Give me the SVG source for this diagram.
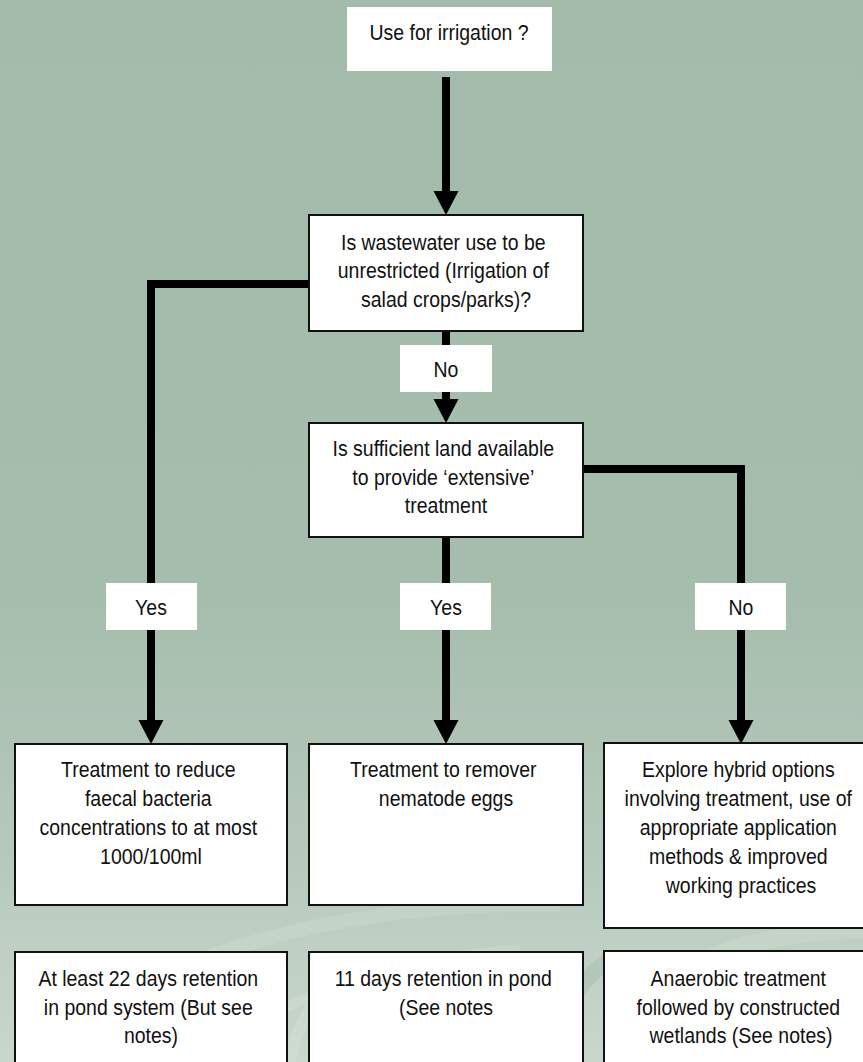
<svg xmlns="http://www.w3.org/2000/svg" width="863" height="1062" viewBox="0 0 863 1062">
  <defs>
    <linearGradient id="bg" x1="0" y1="0" x2="0" y2="1">
      <stop offset="0" stop-color="#a3bbab"/>
      <stop offset="0.55" stop-color="#a5bdad"/>
      <stop offset="0.8" stop-color="#b6c8bb"/>
      <stop offset="1" stop-color="#c9d7cd"/>
    </linearGradient>
    <marker id="head" markerUnits="userSpaceOnUse" markerWidth="24" markerHeight="26" viewBox="0 -12 23 24" refX="1" refY="0" orient="auto">
      <path d="M0,-12 L23,0 L0,12 Z" fill="#000"/>
    </marker>
    <style>
      .box { fill: #fff; stroke: #111; stroke-width: 2; }
      .plain { fill: #fff; }
      .wire { fill: none; stroke: #000; stroke-width: 8; stroke-linejoin: miter; }
      .t { font-family: "Liberation Sans", Arial, sans-serif; font-size: 22px; fill: #111; text-anchor: middle; }
      .swirl { fill: none; stroke: #ffffff; stroke-opacity: 0.12; }
    </style>
  </defs>

  <!-- backdrop -->
  <rect x="0" y="0" width="863" height="1062" fill="url(#bg)"/>
  <g id="backdrop-swirls">
    <path class="swirl" stroke-width="14" d="M110,1000 Q300,900 560,905"/>
    <path class="swirl" stroke-width="10" d="M200,1062 Q330,960 520,950"/>
    <path class="swirl" stroke-width="18" d="M620,1010 Q720,930 863,930"/>
    <path class="swirl" stroke-width="12" d="M290,1062 Q300,1000 360,965"/>
    <path fill="none" stroke="#8fa797" stroke-opacity="0.25" stroke-width="16" d="M560,1062 Q560,990 610,960"/>
    <path fill="none" stroke="#8fa797" stroke-opacity="0.2" stroke-width="14" d="M25,1062 Q30,1000 80,960"/>
  </g>

  <!-- connectors -->
  <g id="connectors">
    <line class="wire" x1="446" y1="77" x2="446" y2="192" marker-end="url(#head)"/>
    <line class="wire" x1="446" y1="331" x2="446" y2="400" marker-end="url(#head)"/>
    <polyline class="wire" points="309,284 151,284 151,721" marker-end="url(#head)"/>
    <line class="wire" x1="446" y1="537" x2="446" y2="721" marker-end="url(#head)"/>
    <polyline class="wire" points="583,469 741,469 741,721" marker-end="url(#head)"/>
  </g>

  <!-- branch labels -->
  <g id="label-no-1">
    <rect class="plain" x="400" y="345" width="92" height="47"/>
    <text class="t" transform="translate(446 0) scale(0.886 1)"><tspan x="0" y="377">No</tspan></text>
  </g>
  <g id="label-yes-left">
    <rect class="plain" x="106" y="583" width="91" height="47"/>
    <text class="t" transform="translate(151 0) scale(0.886 1)"><tspan x="0" y="615">Yes</tspan></text>
  </g>
  <g id="label-yes-mid">
    <rect class="plain" x="400" y="583" width="91" height="47"/>
    <text class="t" transform="translate(446 0) scale(0.886 1)"><tspan x="0" y="615">Yes</tspan></text>
  </g>
  <g id="label-no-right">
    <rect class="plain" x="695" y="583" width="91" height="47"/>
    <text class="t" transform="translate(741 0) scale(0.886 1)"><tspan x="0" y="615">No</tspan></text>
  </g>

  <!-- nodes -->
  <g id="start">
    <rect class="plain" x="347" y="7" width="205" height="64"/>
    <text class="t" transform="translate(449 0) scale(0.886 1)"><tspan x="0" y="40">Use for irrigation ?</tspan></text>
  </g>
  <g id="q-unrestricted">
    <rect class="box" x="309" y="215" width="274" height="116"/>
    <text class="t" transform="translate(446 0) scale(0.886 1)">
      <tspan x="0" y="250">Is wastewater use to be</tspan>
      <tspan x="0" y="278">unrestricted (Irrigation of</tspan>
      <tspan x="0" y="307">salad crops/parks)?</tspan>
    </text>
  </g>
  <g id="q-land">
    <rect class="box" x="309" y="423" width="274" height="114"/>
    <text class="t" transform="translate(446 0) scale(0.886 1)">
      <tspan x="0" y="456">Is sufficient land available</tspan>
      <tspan x="0" y="485">to provide ‘extensive’</tspan>
      <tspan x="0" y="513">treatment</tspan>
    </text>
  </g>
  <g id="faecal">
    <rect class="box" x="15" y="744" width="272" height="161"/>
    <text class="t" transform="translate(151 0) scale(0.886 1)">
      <tspan x="0" y="777">Treatment to reduce</tspan>
      <tspan x="0" y="806">faecal bacteria</tspan>
      <tspan x="0" y="835">concentrations to at most</tspan>
      <tspan x="0" y="864">1000/100ml</tspan>
    </text>
  </g>
  <g id="nematode">
    <rect class="box" x="309" y="744" width="274" height="161"/>
    <text class="t" transform="translate(446 0) scale(0.886 1)">
      <tspan x="0" y="777">Treatment to remover</tspan>
      <tspan x="0" y="806">nematode eggs</tspan>
    </text>
  </g>
  <g id="hybrid">
    <rect class="box" x="604" y="743" width="280" height="185"/>
    <text class="t" transform="translate(741 0) scale(0.886 1)">
      <tspan x="0" y="777">Explore hybrid options</tspan>
      <tspan x="0" y="806">involving treatment, use of</tspan>
      <tspan x="0" y="835">appropriate application</tspan>
      <tspan x="0" y="864">methods &amp; improved</tspan>
      <tspan x="0" y="893">working practices</tspan>
    </text>
  </g>
  <g id="pond-22">
    <rect class="box" x="15" y="952" width="272" height="130"/>
    <text class="t" transform="translate(151 0) scale(0.886 1)">
      <tspan x="0" y="986">At least 22 days retention</tspan>
      <tspan x="0" y="1015">in pond system (But see</tspan>
      <tspan x="0" y="1043">notes)</tspan>
    </text>
  </g>
  <g id="pond-11">
    <rect class="box" x="309" y="952" width="274" height="130"/>
    <text class="t" transform="translate(446 0) scale(0.886 1)">
      <tspan x="0" y="986">11 days retention in pond</tspan>
      <tspan x="0" y="1015">(See notes</tspan>
    </text>
  </g>
  <g id="anaerobic">
    <rect class="box" x="604" y="951" width="280" height="130"/>
    <text class="t" transform="translate(741 0) scale(0.886 1)">
      <tspan x="0" y="986">Anaerobic treatment</tspan>
      <tspan x="0" y="1015">followed by constructed</tspan>
      <tspan x="0" y="1043">wetlands (See notes)</tspan>
    </text>
  </g>
</svg>
